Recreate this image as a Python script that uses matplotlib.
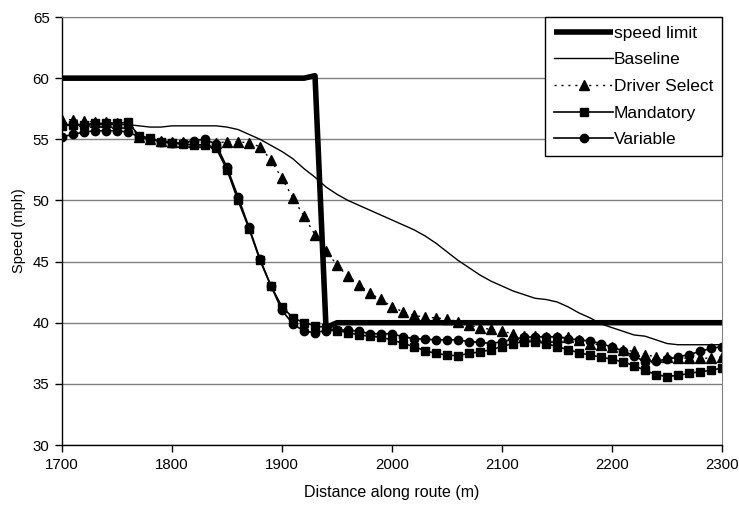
import numpy as np
import matplotlib
matplotlib.use("Agg")
import matplotlib.pyplot as plt

plt.rcParams['font.family'] = ['Liberation Sans', 'DejaVu Sans']

# distance along route, every 10 m
distance = list(range(1700, 2301, 10))

speed_limit = [60] * 23 + [60.2, 39.6] + [40] * 36

baseline = [
    56.2, 56.2, 56.2, 56.2, 56.2, 56.2, 56.2, 56.1, 56.0, 56.0,
    56.1, 56.1, 56.1, 56.1, 56.1, 56.0, 55.8, 55.4, 55.0, 54.5,
    54.0, 53.4, 52.6, 51.9, 51.1, 50.5, 50.0, 49.6, 49.2, 48.8,
    48.4, 48.0, 47.6, 47.1, 46.5, 45.8, 45.1, 44.5, 43.9, 43.4,
    43.0, 42.6, 42.3, 42.0, 41.9, 41.7, 41.3, 40.8, 40.4, 39.9,
    39.6, 39.3, 39.0, 38.9, 38.6, 38.3, 38.2, 38.2, 38.2, 38.2,
    38.2,
]

driver_select = [
    56.6, 56.6, 56.5, 56.4, 56.4, 56.3, 56.3, 55.2, 55.0, 54.9,
    54.8, 54.8, 54.8, 54.8, 54.7, 54.8, 54.8, 54.7, 54.4, 53.3,
    51.8, 50.2, 48.7, 47.2, 45.9, 44.7, 43.8, 43.1, 42.4, 41.9,
    41.3, 40.9, 40.6, 40.45, 40.4, 40.3, 40.1, 39.8, 39.6, 39.45,
    39.3, 39.1, 38.9, 38.9, 38.85, 38.8, 38.8, 38.6, 38.3, 38.2,
    38.0, 37.8, 37.65, 37.4, 37.2, 37.2, 37.1, 37.1, 37.1, 37.1,
    37.2,
]

mandatory = [
    56.1, 56.2, 56.2, 56.3, 56.3, 56.3, 56.4, 55.3, 55.1, 54.8,
    54.7, 54.6, 54.55, 54.55, 54.3, 52.5, 50.0, 47.7, 45.1, 43.0,
    41.3, 40.4, 40.0, 39.75, 39.6, 39.35, 39.2, 39.0, 38.9, 38.8,
    38.6, 38.3, 38.05, 37.7, 37.5, 37.35, 37.3, 37.5, 37.6, 37.8,
    38.05, 38.3, 38.45, 38.45, 38.3, 38.05, 37.8, 37.55, 37.35, 37.2,
    37.0, 36.8, 36.5, 36.1, 35.75, 35.6, 35.7, 35.85, 36.0, 36.1,
    36.3,
]

variable = [
    55.2, 55.4, 55.6, 55.7, 55.7, 55.7, 55.6, 55.2, 55.0, 54.8,
    54.7, 54.7, 54.9, 55.0, 54.6, 52.7, 50.3, 47.8, 45.2, 43.0,
    41.0, 39.9, 39.3, 39.2, 39.35, 39.4, 39.4, 39.3, 39.1, 39.1,
    39.1, 38.85, 38.7, 38.65, 38.6, 38.6, 38.6, 38.45, 38.4, 38.3,
    38.45, 38.65, 38.8, 38.85, 38.85, 38.85, 38.7, 38.6, 38.5, 38.3,
    38.0, 37.7, 37.3, 36.8, 36.9, 37.0, 37.2, 37.4, 37.65, 37.9,
    38.05,
]

fig = plt.figure(figsize=(7.39, 5.05), dpi=100)
ax = fig.add_axes([0.0839, 0.1188, 0.8931, 0.8475])

ax.plot(distance, speed_limit, color='black', lw=4.0, solid_capstyle='butt',
        label='speed limit')
ax.plot(distance, baseline, color='black', lw=1.0, label='Baseline')
ax.plot(distance, driver_select, color='black', lw=1.0, ls=(0, (1.5, 3.5)),
        marker='^', ms=6.5, label='Driver Select')
ax.plot(distance, mandatory, color='black', lw=1.2, marker='s', ms=5.8,
        label='Mandatory')
ax.plot(distance, variable, color='black', lw=1.2, marker='o', ms=6,
        label='Variable')

ax.set_xlim(1700, 2300)
ax.set_ylim(30, 65)
ax.set_xticks(np.arange(1700, 2301, 100))
ax.set_yticks(np.arange(30, 66, 5))
ax.yaxis.grid(True, color='#808080', lw=1.0)
ax.set_axisbelow(True)

for side in ['top', 'right']:
    ax.spines[side].set_color('#808080')
for side in ['left', 'bottom']:
    ax.spines[side].set_color('black')
    ax.spines[side].set_linewidth(1.0)

ax.tick_params(direction='out', length=5, width=1, labelsize=10.8, pad=4)

ax.set_xlabel('Distance along route (m)', fontsize=11.5, labelpad=10)
ax.set_ylabel('Speed (mph)', fontsize=10.5, labelpad=5)

leg = ax.legend(loc='upper right', borderaxespad=0, fontsize=12.5,
                handlelength=3.4, handletextpad=0.05, labelspacing=0.66,
                borderpad=0.5, fancybox=False, framealpha=1,
                edgecolor='black')
leg.get_frame().set_linewidth(1.0)

fig.savefig('out.png', dpi=100)
